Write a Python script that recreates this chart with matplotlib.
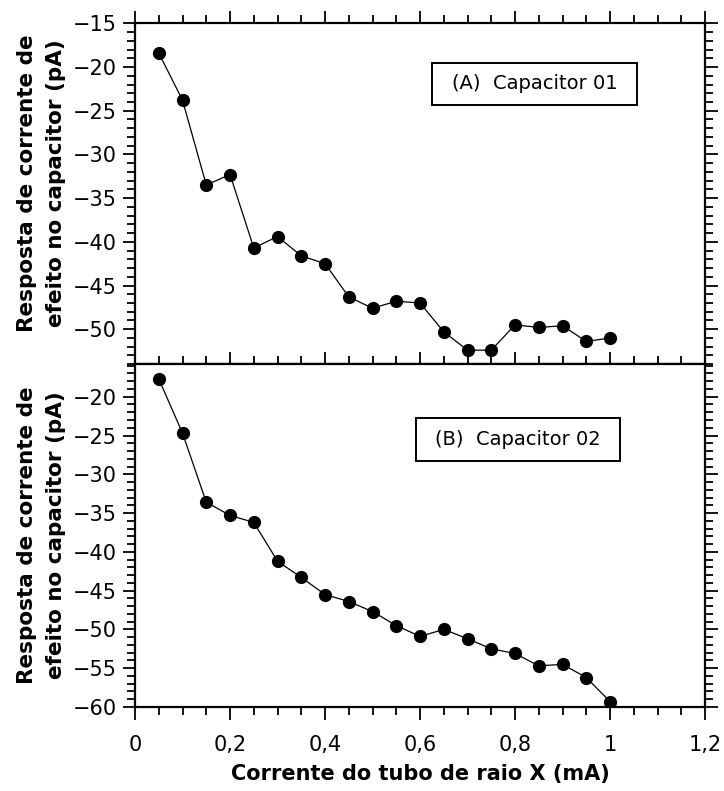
import matplotlib
matplotlib.use("Agg")
import matplotlib.pyplot as plt
from matplotlib.ticker import MultipleLocator, FuncFormatter
from matplotlib.patches import Rectangle

x_ma = [0.05, 0.10, 0.15, 0.20, 0.25, 0.30, 0.35, 0.40, 0.45, 0.50,
        0.55, 0.60, 0.65, 0.70, 0.75, 0.80, 0.85, 0.90, 0.95, 1.00]
cap01 = [-18.4, -23.8, -33.5, -32.3, -40.7, -39.4, -41.6, -42.5, -46.3, -47.6,
         -46.8, -47.0, -50.3, -52.4, -52.4, -49.5, -49.8, -49.6, -51.4, -51.0]
cap02 = [-17.7, -24.7, -33.6, -35.3, -36.2, -41.2, -43.3, -45.5, -46.4, -47.7,
         -49.5, -50.9, -50.0, -51.2, -52.5, -53.1, -54.7, -54.5, -56.2, -59.3]
labels = ["(A)  Capacitor 01", "(B)  Capacitor 02"]
ylabel = "Resposta de corrente de\nefeito no capacitor (pA)"
xlabel = "Corrente do tubo de raio X (mA)"

fig = plt.figure(figsize=(7.24, 7.91), dpi=100)
gs = fig.add_gridspec(2, 1, left=0.1865, right=0.9738, top=0.9705, bottom=0.1062,
                      hspace=0, height_ratios=[341, 343])
ax1 = fig.add_subplot(gs[0])
ax2 = fig.add_subplot(gs[1], sharex=ax1)

def comma_fmt(v, pos):
    s = f"{v:.1f}".rstrip("0").rstrip(".")
    if s == "-0":
        s = "0"
    return s.replace(".", ",")

for ax, data, lab, ylim, box, ly in [
        (ax1, cap01, labels[0], (-54, -15), (0.521, 0.760, 0.881, 0.8845), 0.53),
        (ax2, cap02, labels[1], (-60, -15.8), (0.493, 0.718, 0.850, 0.843), 0.5)]:
    ax.plot(x_ma, data, color="black", lw=0.9, marker="o", ms=8.5,
            markeredgecolor="black", markerfacecolor="black")
    ax.set_xlim(0, 1.2)
    ax.set_ylim(*ylim)
    ax.xaxis.set_major_locator(MultipleLocator(0.2))
    ax.xaxis.set_minor_locator(MultipleLocator(0.05))
    ax.yaxis.set_major_locator(MultipleLocator(5))
    ax.yaxis.set_minor_locator(MultipleLocator(1))
    ax.tick_params(which="both", direction="out", top=True, right=True,
                   width=1.3, colors="black", labelsize=15)
    ax.tick_params(axis="y", which="both", pad=4)
    ax.tick_params(axis="x", which="both", pad=11)
    ax.tick_params(which="major", length=9)
    ax.tick_params(which="minor", length=6)
    for sp in ax.spines.values():
        sp.set_linewidth(1.6)
    ax.set_ylabel(ylabel, fontsize=15.5, fontweight="bold", linespacing=1.55)
    ax.yaxis.set_label_coords(-0.121, ly)
    x0, y0, x1, y1 = box
    ax.add_patch(Rectangle((x0, y0), x1 - x0, y1 - y0, transform=ax.transAxes,
                           facecolor="white", edgecolor="black", lw=1.4, zorder=5))
    ax.text((x0 + x1) / 2, (y0 + y1) / 2, lab, transform=ax.transAxes,
            ha="center", va="center", fontsize=14, zorder=6)

ax1.tick_params(labelbottom=False)
ax2.xaxis.set_major_formatter(FuncFormatter(comma_fmt))
ax2.set_xlabel(xlabel, fontsize=15, fontweight="bold", labelpad=7)

fig.savefig("out.png", dpi=100)
